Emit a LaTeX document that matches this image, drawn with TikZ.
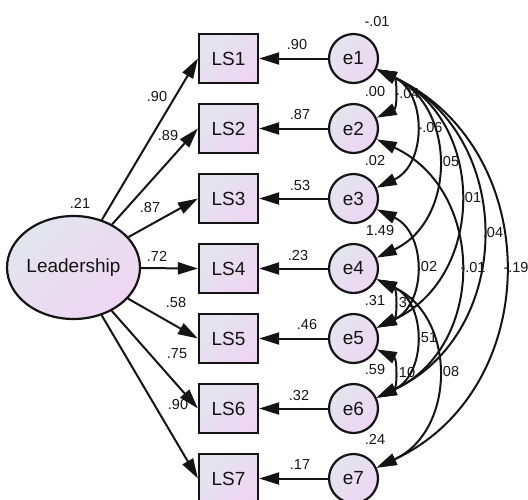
\documentclass[tikz,border=0pt]{standalone}
\usepackage{fontspec}
\setmainfont{Liberation Sans}
\usetikzlibrary{shapes.geometric,arrows.meta}
\definecolor{shadeA}{RGB}{226,229,238}
\definecolor{shadeB}{RGB}{238,214,242}
\definecolor{ink}{RGB}{20,20,20}
\begin{document}
\begin{tikzpicture}[x=1pt,y=1pt,
  var/.style={draw=ink, line width=2.2pt, top color=shadeA, bottom color=shadeB,
    shading angle=45, text=ink, inner sep=0pt, font=\fontsize{19}{22}\selectfont},
  obs/.style={var, rectangle, minimum width=59pt, minimum height=49pt},
  err/.style={var, circle, minimum size=49pt},
  lat/.style={var, ellipse, minimum width=121pt, minimum height=103pt},
  arr/.style={draw=ink, line width=2pt, -{Triangle[length=20pt,width=12pt]}},
  cov/.style={draw=ink, line width=2pt,
    {Triangle[length=20pt,width=12pt]}-{Triangle[length=20pt,width=12pt]},
    out=-25, in=25, looseness=1.2},
  lbl/.style={text=ink, inner sep=0pt, font=\fontsize{14.5}{16}\selectfont}]
\useasboundingbox (0,0) rectangle (528,-499);

% latent factor
\node[lat] (lead) at (73.5,-267.5) {Leadership};

% indicators and their error terms
\foreach \i in {1,...,7}{
  \node[obs] (ls\i) at (228.5,{-58.5-70*(\i-1)}) {LS\i};
  \node[err] (e\i)  at (353.5,{-58.5-70*(\i-1)}) {e\i};
}

% factor loadings and error paths
\foreach \i in {1,...,7}{
  \draw[arr] (lead) -- (ls\i.west);
  \draw[arr] (e\i) -- (ls\i);
}

% error covariances
\draw[cov] (e1) to (e2);
\draw[cov] (e1) to (e3);
\draw[cov] (e1) to (e4);
\draw[cov] (e1) to (e5);
\draw[cov] (e1) to (e6);
\draw[cov] (e1) to (e7);
\draw[cov] (e2) to (e6);
\draw[cov] (e3) to (e5);
\draw[cov] (e4) to (e5);
\draw[cov] (e4) to (e6);
\draw[cov] (e5) to (e6);
\draw[cov] (e4) to (e7);

% factor variance and loading estimates
\node[lbl] (v0) at (80,-203) {.21};
\node[lbl] (l1) at (157,-97) {.90};
\node[lbl] (l2) at (168,-136) {.89};
\node[lbl] (l3) at (150,-208) {.87};
\node[lbl] (l4) at (157,-256) {.72};
\node[lbl] (l5) at (176,-303) {.58};
\node[lbl] (l6) at (177,-354) {.75};
\node[lbl] (l7) at (178,-405) {.90};

% error path estimates
\node[lbl] (p1) at (297,-45) {.90};
\node[lbl] (p2) at (300,-115) {.87};
\node[lbl] (p3) at (300,-186) {.53};
\node[lbl] (p4) at (298,-256) {.23};
\node[lbl] (p5) at (307,-325) {.46};
\node[lbl] (p6) at (299,-396) {.32};
\node[lbl] (p7) at (300,-465) {.17};

% error term estimates
\node[lbl] (s1) at (377,-22) {-.01};
\node[lbl] (s2) at (375,-92) {.00};
\node[lbl] (s3) at (375,-161) {.02};
\node[lbl] (s4) at (380,-231) {1.49};
\node[lbl] (s5) at (375,-301) {.31};
\node[lbl] (s6) at (375,-370) {.59};
\node[lbl] (s7) at (375,-439) {.24};

% covariance estimates
\node[lbl] (c12) at (407,-94) {-.04};
\node[lbl] (c13) at (430,-128) {-.06};
\node[lbl] (c14) at (449,-162) {.05};
\node[lbl] (c15) at (471,-198) {.01};
\node[lbl] (c16) at (493,-233) {.04};
\node[lbl] (c17) at (516,-268) {-.19};
\node[lbl] (c26) at (473,-268) {-.01};
\node[lbl] (c35) at (427,-267) {.02};
\node[lbl] (c45) at (405,-303) {.32};
\node[lbl] (c46) at (427,-338) {.51};
\node[lbl] (c56) at (405,-373) {.10};
\node[lbl] (c47) at (449,-372) {.08};
\end{tikzpicture}
\end{document}
